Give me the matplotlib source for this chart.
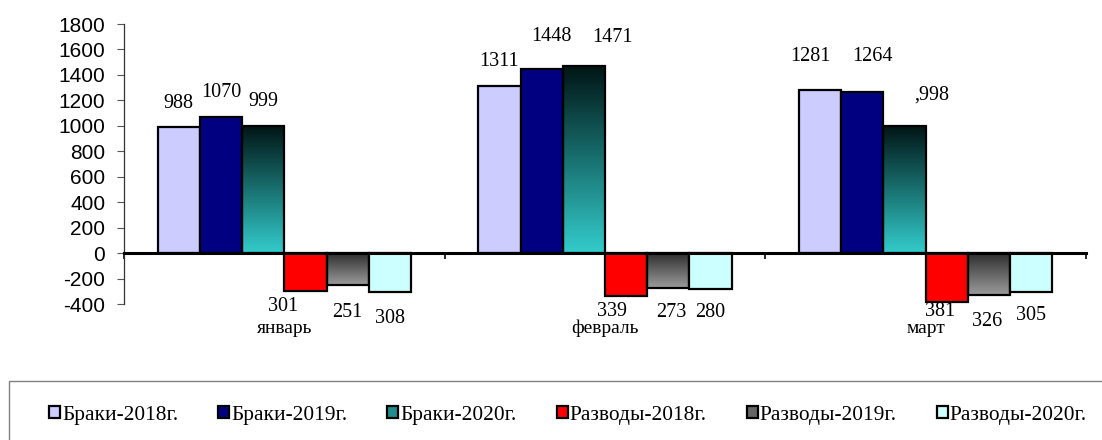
import numpy as np
import matplotlib
matplotlib.use("Agg")
import matplotlib.pyplot as plt
from matplotlib.patches import Rectangle
from matplotlib.colors import LinearSegmentedColormap

# ---------------- data ----------------
months = ["январь", "февраль", "март"]
series_names = ["Браки-2018г.", "Браки-2019г.", "Браки-2020г.",
                "Разводы-2018г.", "Разводы-2019г.", "Разводы-2020г."]
marriages_2018 = [988, 1311, 1281]
marriages_2019 = [1070, 1448, 1264]
marriages_2020 = [999, 1471, 998]
divorces_2018 = [-301, -339, -381]
divorces_2019 = [-251, -273, -326]
divorces_2020 = [-308, -280, -305]
label_texts = [
    ["988", "1311", "1281"],
    ["1070", "1448", "1264"],
    ["999", "1471", ",998"],
    ["301", "339", "381"],
    ["251", "273", "326"],
    ["308", "280", "305"],
]
y_ticks = [-400, -200, 0, 200, 400, 600, 800, 1000, 1200, 1400, 1600, 1800]

# ---------------- styles ----------------
colors = ["#CCCCFF", "#000080", None, "#FF0000", None, "#CCFFFF"]
gradients = {2: ("#001414", "#33CCCC"), 4: ("#2e2e2e", "#9c9c9c")}
legend_colors = ["#CCCCFF", "#000080", "#1f8d8d", "#FF0000", "#666666", "#CCFFFF"]
# label offsets in pixels (dx, dy) relative to bar end
label_offsets = [
    [(0, 24), (0, 25), (-10, 34)],
    [(0, 24), (10, 32), (10, 36)],
    [(0, 24), (29, 28), (27, 31)],
    [(-22, -15), (-14, -15), (-7, -10)],
    [(0, -27), (3, -25), (-2, -27)],
    [(0, -26), (0, -24), (0, -24)],
]

values = [marriages_2018, marriages_2019, marriages_2020,
          divorces_2018, divorces_2019, divorces_2020]

W, H = 1102, 440
fig = plt.figure(figsize=(W / 100, H / 100), dpi=100)
ax = fig.add_axes([124 / W, 1 - 304 / H, (1086 - 124) / W, (304 - 24) / H])

x = np.arange(len(months))
bw = 0.1316
serif = "Liberation Serif"
sans = "Liberation Sans"

for i, vals in enumerate(values):
    pos = x + (i - 2.5) * bw
    if i in gradients:
        bars = ax.bar(pos, vals, width=bw, facecolor="none", edgecolor="black",
                      linewidth=1.6, zorder=3)
        c_top, c_bot = gradients[i]
        cmap = LinearSegmentedColormap.from_list("g%d" % i, [c_top, c_bot])
        grad = np.linspace(0, 1, 256).reshape(-1, 1)
        for b in bars:
            x0 = b.get_x()
            x1 = x0 + b.get_width()
            y0 = b.get_y()
            y1 = y0 + b.get_height()
            lo, hi = min(y0, y1), max(y0, y1)
            im = ax.imshow(grad, cmap=cmap, aspect="auto", origin="upper",
                           extent=[x0, x1, lo, hi], zorder=2)
            im.set_clip_path(b)
    else:
        bars = ax.bar(pos, vals, width=bw, color=colors[i], edgecolor="black",
                      linewidth=1.6, zorder=3)
    for j, b in enumerate(bars):
        dx, dy = label_offsets[i][j]
        ax.annotate(label_texts[i][j], xy=(b.get_x() + b.get_width() / 2, vals[j]),
                    xytext=(dx, dy), textcoords="offset pixels",
                    ha="center", va="center", fontsize=14.5, family=serif,
                    zorder=5)

ax.set_xlim(-0.5, 2.5)
ax.set_ylim(-400, 1800)
ax.set_yticks(y_ticks)
ax.set_yticklabels([str(t) for t in y_ticks], fontsize=15, family=sans)
ax.tick_params(axis="y", direction="out", length=5, width=0.8, color="#555555", pad=8.5)

ax.set_xticks([-0.5, 0.5, 1.5, 2.5])
ax.set_xticklabels([])
ax.tick_params(axis="x", direction="out", length=4, width=1.2, color="black")

ax.spines["top"].set_visible(False)
ax.spines["right"].set_visible(False)
ax.spines["bottom"].set_position(("data", 0))
ax.spines["bottom"].set_linewidth(2.2)
ax.spines["bottom"].set_zorder(4)
ax.spines["left"].set_linewidth(0.9)
ax.spines["left"].set_color("#333333")

for k, m in enumerate(months):
    ax.annotate(m, xy=(x[k], 0), xycoords=("data", "axes fraction"),
                xytext=(0, -29), textcoords="offset pixels",
                ha="center", va="baseline", fontsize=14, family=serif)

# legend frame (extends past the figure edge)
fig.patches.append(Rectangle((9 / W, -0.1), 1.2, (1 - 381 / H) + 0.1,
                             transform=fig.transFigure, fill=False,
                             edgecolor="#808080", linewidth=1.0))

handles = [Rectangle((0, 0), 1, 1, facecolor=c, edgecolor="black", linewidth=1.6)
           for c in legend_colors]
fig.legend(handles, series_names, loc="center left",
           bbox_to_anchor=(49 / W, 1 - 415 / H), ncol=6, frameon=False,
           prop={"family": serif, "size": 15.4}, handlelength=0.51,
           handleheight=0.51, handletextpad=0.1, columnspacing=1.87,
           borderpad=0, borderaxespad=0)

fig.savefig("out.png", dpi=100)
